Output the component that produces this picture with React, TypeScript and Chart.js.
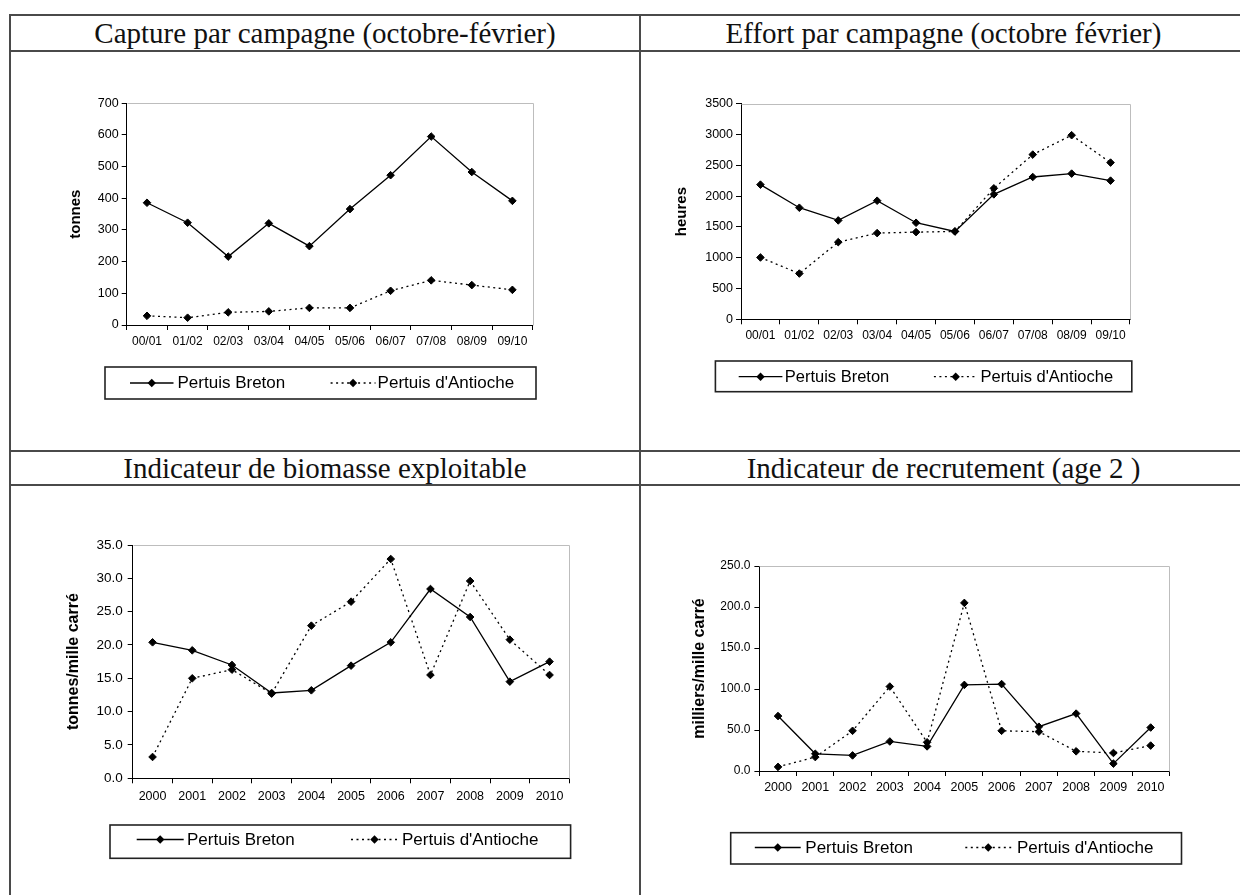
import React, { useEffect, useRef } from "react";
import { Chart, registerables } from "chart.js";

Chart.register(...registerables);

// ---------- data ----------
const seasons = ["00/01", "01/02", "02/03", "03/04", "04/05", "05/06", "06/07", "07/08", "08/09", "09/10"];
const years = ["2000", "2001", "2002", "2003", "2004", "2005", "2006", "2007", "2008", "2009", "2010"];
const seriesNames = ["Pertuis Breton", "Pertuis d'Antioche"];

const captureBreton = [386, 323, 216, 321, 249, 366, 473, 595, 483, 392];
const captureAntioche = [29, 23, 40, 43, 54, 54, 108, 141, 126, 111];

const effortBreton = [2187, 1812, 1606, 1926, 1568, 1427, 2029, 2311, 2366, 2252];
const effortAntioche = [1004, 743, 1253, 1400, 1416, 1427, 2127, 2675, 2990, 2545];

const biomasseBreton = [20.4, 19.2, 17.0, 12.8, 13.2, 16.9, 20.4, 28.4, 24.2, 14.5, 17.5];
const biomasseAntioche = [3.2, 15.0, 16.3, 12.7, 22.9, 26.5, 32.9, 15.5, 29.6, 20.8, 15.5];

const recrutBreton = [67, 21, 19, 36, 30, 105, 106, 54, 70, 9, 53];
const recrutAntioche = [5, 17, 49, 103, 35, 205, 49, 48, 24, 22, 31];

const titles = [
  "Capture par campagne (octobre-février)",
  "Effort par campagne (octobre février)",
  "Indicateur de biomasse exploitable",
  "Indicateur de recrutement (age 2 )",
];
const yTitles = ["tonnes", "heures", "tonnes/mille carré", "milliers/mille carré"];

// ---------- styling / layout ----------
const SANS = '"Liberation Sans", Arial, sans-serif';
const SERIF = '"Liberation Serif", "Times New Roman", serif';
const DOTTED = [2, 3.5];

type Legend = {
  box: [number, number, number, number];
  line1: [number, number];
  text1: number;
  line2: [number, number];
  text2: number;
  textY: number;
  size: number;
};

type Panel = {
  left: number;
  top: number;
  width: number;
  height: number;
  labels: string[];
  breton: number[];
  antioche: number[];
  yMax: number;
  yStep: number;
  decimals: number;
  yTitle: string;
  yTitleSize: number;
  yTickSize: number;
  xTickSize: number;
  pad: { left: number; right: number; top: number; bottom: number };
  yWidth: number;
  xHeight: number;
  xPad: number;
  yPad: number;
  legend: Legend;
};

const panels: Panel[] = [
  {
    left: 12, top: 53, width: 626, height: 396,
    labels: seasons, breton: captureBreton, antioche: captureAntioche,
    yMax: 700, yStep: 100, decimals: 0,
    yTitle: yTitles[0], yTitleSize: 15, yTickSize: 12.5, xTickSize: 12,
    pad: { left: 54.5, right: 105.3, top: 50.3, bottom: 84 },
    yWidth: 60.2, xHeight: 40, xPad: 4.5, yPad: 3,
    legend: { box: [93, 314, 431, 32], line1: [118, 161.5], text1: 165.5, line2: [318.6, 363.5], text2: 365.6, textY: 330, size: 17 },
  },
  {
    left: 642, top: 53, width: 600, height: 396,
    labels: seasons, breton: effortBreton, antioche: effortAntioche,
    yMax: 3500, yStep: 500, decimals: 0,
    yTitle: yTitles[1], yTitleSize: 15, yTickSize: 12.5, xTickSize: 12,
    pad: { left: 31, right: 112, top: 50.8, bottom: 89.7 },
    yWidth: 68, xHeight: 40, xPad: 4.5, yPad: 3,
    legend: { box: [73.4, 308, 416.4, 30.7], line1: [96.7, 140.4], text1: 142.7, line2: [291.9, 335.5], text2: 338.6, textY: 323.7, size: 16.5 },
  },
  {
    left: 12, top: 487, width: 626, height: 406,
    labels: years, breton: biomasseBreton, antioche: biomasseAntioche,
    yMax: 35, yStep: 5, decimals: 1,
    yTitle: yTitles[2], yTitleSize: 16, yTickSize: 13.5, xTickSize: 12.5,
    pad: { left: 52, right: 68.6, top: 58, bottom: 74.7 },
    yWidth: 68.7, xHeight: 40, xPad: 6, yPad: 5,
    legend: { box: [98, 338, 460.6, 33.3], line1: [124.7, 171.7], text1: 175, line2: [339, 386], text2: 390, textY: 352.5, size: 17 },
  },
  {
    left: 642, top: 487, width: 600, height: 406,
    labels: years, breton: recrutBreton, antioche: recrutAntioche,
    yMax: 250, yStep: 50, decimals: 1,
    yTitle: yTitles[3], yTitleSize: 16, yTickSize: 12, xTickSize: 12.5,
    pad: { left: 47.5, right: 72.7, top: 79, bottom: 82 },
    yWidth: 69.9, xHeight: 40, xPad: 4.5, yPad: 4,
    legend: { box: [88.7, 345.7, 450.8, 31.3], line1: [112.8, 158.7], text1: 163.3, line2: [323.3, 369.2], text2: 375, textY: 360.5, size: 17 },
  },
];

function diamond(ctx: CanvasRenderingContext2D, x: number, y: number, r: number) {
  ctx.beginPath();
  ctx.moveTo(x - r, y);
  ctx.lineTo(x, y - r);
  ctx.lineTo(x + r, y);
  ctx.lineTo(x, y + r);
  ctx.closePath();
  ctx.fill();
}

function makeExcelPlugin(p: Panel) {
  return {
    id: "excelDecor",
    beforeDatasetsDraw(chart: any) {
      const { ctx, chartArea } = chart;
      ctx.save();
      ctx.strokeStyle = "#bdbdbd";
      ctx.lineWidth = 1;
      ctx.beginPath();
      ctx.moveTo(Math.round(chartArea.left) + 0.5, Math.round(chartArea.top) + 0.5);
      ctx.lineTo(Math.round(chartArea.right) + 0.5, Math.round(chartArea.top) + 0.5);
      ctx.lineTo(Math.round(chartArea.right) + 0.5, Math.round(chartArea.bottom) + 0.5);
      ctx.stroke();
      ctx.restore();
    },
    afterDraw(chart: any) {
      const { ctx } = chart;
      const L = p.legend;
      ctx.save();
      ctx.strokeStyle = "#222";
      ctx.lineWidth = 1.6;
      ctx.strokeRect(L.box[0], L.box[1], L.box[2], L.box[3]);
      const items = [
        { line: L.line1, text: L.text1, dash: [] as number[], name: chart.data.datasets[0].label },
        { line: L.line2, text: L.text2, dash: DOTTED, name: chart.data.datasets[1].label },
      ];
      items.forEach((it) => {
        ctx.strokeStyle = "#000";
        ctx.fillStyle = "#000";
        ctx.lineWidth = 1.3;
        ctx.setLineDash(it.dash);
        ctx.beginPath();
        ctx.moveTo(it.line[0], L.textY);
        ctx.lineTo(it.line[1], L.textY);
        ctx.stroke();
        ctx.setLineDash([]);
        diamond(ctx, (it.line[0] + it.line[1]) / 2, L.textY, 4.2);
        ctx.font = `${L.size}px ${SANS}`;
        ctx.textAlign = "left";
        ctx.textBaseline = "middle";
        ctx.fillText(it.name, it.text, L.textY + 0.5);
      });
      ctx.restore();
    },
  };
}

function PanelChart({ p }: { p: Panel }) {
  const ref = useRef<HTMLCanvasElement | null>(null);
  useEffect(() => {
    if (!ref.current) return;
    const common = {
      borderColor: "#000",
      backgroundColor: "#000",
      pointBackgroundColor: "#000",
      pointBorderColor: "#000",
      pointStyle: "rectRot" as const,
      pointRadius: 3.8,
      pointBorderWidth: 1,
      borderWidth: 1.3,
      tension: 0,
      fill: false,
    };
    const chart = new Chart(ref.current, {
      type: "line",
      data: {
        labels: p.labels,
        datasets: [
          { ...common, label: seriesNames[0], data: p.breton },
          { ...common, label: seriesNames[1], data: p.antioche, borderDash: DOTTED },
        ],
      },
      options: {
        responsive: false,
        animation: false,
        events: [],
        layout: { padding: p.pad },
        plugins: {
          legend: { display: false },
          tooltip: { enabled: false },
          title: { display: false },
        },
        scales: {
          x: {
            type: "category",
            offset: true,
            afterFit: (s: any) => {
              s.height = p.xHeight;
            },
            grid: {
              offset: true,
              drawOnChartArea: false,
              drawTicks: true,
              tickLength: 5,
              color: "#000",
              lineWidth: 1,
            },
            border: { display: true, color: "#000", width: 1 },
            ticks: {
              color: "#000",
              font: { family: SANS, size: p.xTickSize },
              padding: p.xPad,
              maxRotation: 0,
              minRotation: 0,
              autoSkip: false,
            },
          },
          y: {
            type: "linear",
            min: 0,
            max: p.yMax,
            afterFit: (s: any) => {
              s.width = p.yWidth;
            },
            grid: {
              drawOnChartArea: false,
              drawTicks: true,
              tickLength: 5,
              color: "#000",
              lineWidth: 1,
            },
            border: { display: true, color: "#000", width: 1 },
            ticks: {
              stepSize: p.yStep,
              color: "#000",
              font: { family: SANS, size: p.yTickSize },
              padding: p.yPad,
              callback: (v: any) => Number(v).toFixed(p.decimals),
            },
            title: {
              display: true,
              text: p.yTitle,
              color: "#000",
              font: { family: SANS, size: p.yTitleSize, weight: "bold" },
              padding: 0,
            },
          },
        },
      },
      plugins: [makeExcelPlugin(p)],
    } as any);
    return () => chart.destroy();
  }, [p]);
  return (
    <canvas
      ref={ref}
      width={p.width}
      height={p.height}
      style={{ position: "absolute", left: p.left, top: p.top, width: p.width, height: p.height }}
    />
  );
}

const LINE = "#4a4a4a";

function HLine({ y }: { y: number }) {
  return <div style={{ position: "absolute", left: 9, top: y - 1, width: 1240, height: 2, background: LINE }} />;
}
function VLine({ x }: { x: number }) {
  return <div style={{ position: "absolute", left: x - 1, top: 14, width: 2, height: 890, background: LINE }} />;
}
function Title({ text, x1, x2, y1, y2 }: { text: string; x1: number; x2: number; y1: number; y2: number }) {
  return (
    <div
      style={{
        position: "absolute",
        left: x1,
        top: y1,
        width: x2 - x1,
        height: y2 - y1,
        display: "flex",
        alignItems: "center",
        justifyContent: "center",
        fontFamily: SERIF,
        fontSize: 29,
        lineHeight: 1,
        color: "#111",
        whiteSpace: "nowrap",
      }}
    >
      {text}
    </div>
  );
}

export default function App() {
  return (
    <div
      style={{
        position: "absolute",
        left: 0,
        top: 0,
        width: 1240,
        height: 895,
        overflow: "hidden",
        background: "#fff",
      }}
    >
      <Title text={titles[0]} x1={10} x2={640} y1={16} y2={51} />
      <Title text={titles[1]} x1={640} x2={1247} y1={16} y2={51} />
      <Title text={titles[2]} x1={10} x2={640} y1={452} y2={485} />
      <Title text={titles[3]} x1={640} x2={1247} y1={452} y2={485} />
      {panels.map((p, i) => (
        <PanelChart key={i} p={p} />
      ))}
      <HLine y={15} />
      <HLine y={51} />
      <HLine y={451} />
      <HLine y={485} />
      <VLine x={10} />
      <VLine x={640} />
    </div>
  );
}
